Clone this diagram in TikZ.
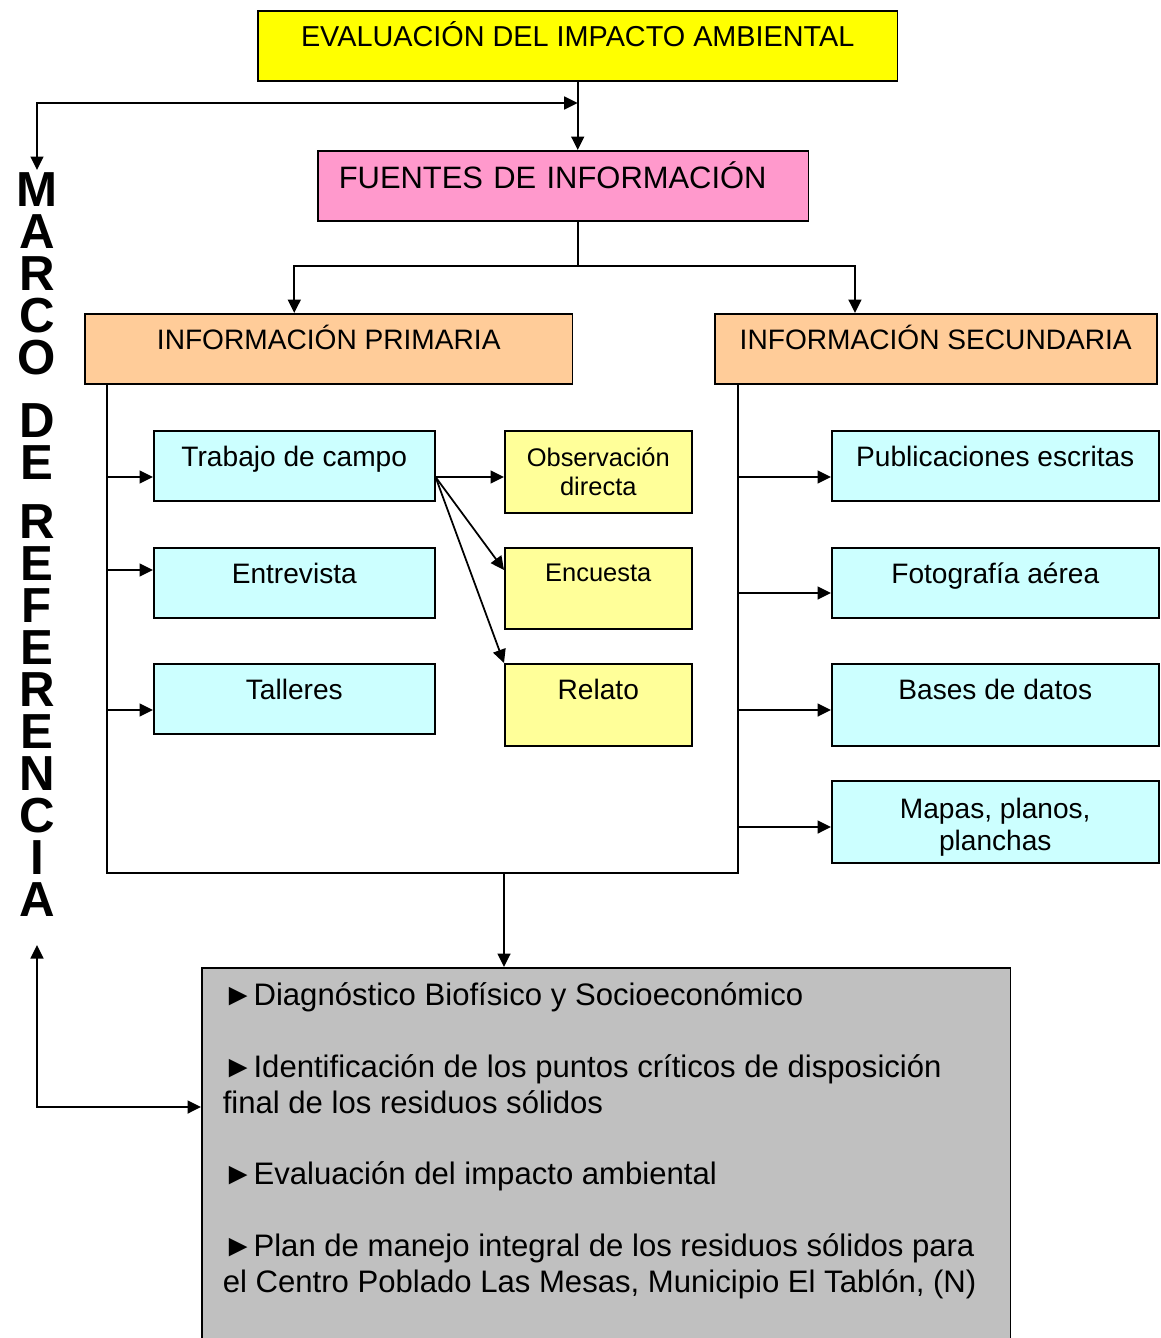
\documentclass[tikz,border=0pt]{standalone}
\usepackage{fontspec}
\setmainfont{Liberation Sans}
\usepackage{xcolor}
\usepackage{tikz}
\usetikzlibrary{calc, positioning, arrows.meta}
\definecolor{eiayellow}{HTML}{FFFF00}
\definecolor{fuentepink}{HTML}{FF99CC}
\definecolor{infopeach}{HTML}{FFCC99}
\definecolor{itemcyan}{HTML}{CCFFFF}
\definecolor{itemyellow}{HTML}{FFFF99}
\definecolor{resultgrey}{HTML}{C0C0C0}
\tikzset{
    base/.style={rectangle, draw=black, line width=0.9pt, inner sep=0pt, align=center, anchor=north west, font=\fontsize{16}{19}\selectfont},
    oneline/.style={text height=0.72cm, text depth=#1},
    twoline/.style={minimum height=1.64cm},
    head/.style={base, oneline=0.68cm, fill=eiayellow, font=\fontsize{16.4}{19}\selectfont},
    source/.style={base, text height=0.76cm, text depth=0.64cm, fill=fuentepink, font=\fontsize{17.6}{20}\selectfont},
    kind/.style={base, oneline=0.68cm, fill=infopeach},
    item/.style={base, fill=itemcyan, minimum width=#1},
    tool/.style={base, fill=itemyellow, minimum width=3.74cm},
    result/.style={base, fill=resultgrey, inner xsep=0.42cm, inner ysep=0.3cm},
    title/.style={inner sep=0pt, align=center, anchor=north, font=\fontsize{28}{23.9}\selectfont\bfseries},
    line/.style={line width=1pt},
    arrow/.style={-{Triangle[length=0.27cm, width=0.26cm]}, line width=1pt},
    twoway/.style={{Triangle[length=0.27cm, width=0.26cm]}-{Triangle[length=0.27cm, width=0.26cm]}, line width=1pt}
}
\begin{document}
\begin{tikzpicture}[x=0.02cm, y=-0.02cm]
    \useasboundingbox (0,0) rectangle (1160,1338);

    % Top
    \node[head, minimum width=12.8cm] (eia) at (257,10) {EVALUACIÓN DEL IMPACTO AMBIENTAL};
    \node[source, text width=8.98cm, inner xsep=0.42cm, align=left] (fuentes) at (317,150) {FUENTES DE INFORMACIÓN};
    \node[kind, minimum width=9.76cm] (prim) at (84,313) {INFORMACIÓN PRIMARIA};
    \node[kind, minimum width=8.84cm] (secu) at (714,313) {INFORMACIÓN SECUNDARIA};

    % Primary sources
    \node[item=5.62cm, oneline=0.68cm] (campo) at (153,430) {Trabajo de campo};
    \node[item=5.62cm, oneline=0.68cm, below=0.91cm of campo.south west, anchor=north west] (entrev) {Entrevista};
    \node[item=5.62cm, oneline=0.68cm, below=0.89cm of entrev.south west, anchor=north west] (taller) {Talleres};
    \node[tool, twoline, font=\fontsize{14.5}{17}\selectfont] (observ) at (504,430) {Observación\\directa};
    \node[tool, text height=0.68cm, text depth=0.94cm, font=\fontsize{14.5}{17}\selectfont] (encuesta) at (504,547) {Encuesta};
    \node[tool, oneline=0.92cm] (relato) at (504,663) {Relato};

    % Secondary sources
    \node[item=6.54cm, oneline=0.68cm] (public) at (831,430) {Publicaciones escritas};
    \node[item=6.54cm, oneline=0.68cm, below=0.91cm of public.south west, anchor=north west] (foto) {Fotografía aérea};
    \node[item=6.54cm, oneline=0.92cm, below=0.89cm of foto.south west, anchor=north west] (bases) {Bases de datos};
    \node[item=6.54cm, twoline, font=\fontsize{16}{18.7}\selectfont, below=0.67cm of bases.south west, anchor=north west] (mapas) {\rule{0pt}{0.62cm}Mapas, planos,\\planchas};

    % Results
    \node[result] (diag) at (201,967) {\parbox[t][6.95cm][t]{15.34cm}{\raggedright\setlength{\parskip}{20.4pt}\fontsize{17.7}{20.4}\selectfont
        ►Diagnóstico Biofísico y Socioeconómico\par
        ►Identificación de los puntos críticos de disposición\\final de los residuos sólidos\par
        ►Evaluación del impacto ambiental\par
        ►Plan de manejo integral de los residuos sólidos para\\el Centro Poblado Las Mesas, Municipio El Tablón, (N)}};

    % Vertical title
    \node[title] (marco) at (37,172) {M\\A\\R\\C\\O\\[0.42cm]D\\E\\[0.34cm]R\\E\\F\\E\\R\\E\\N\\C\\I\\A};
    \coordinate (mtop) at (37,170);
    \coordinate (mbot) at (37,945);

    % Connections top
    \draw[arrow] (eia.south) -- (eia.south |- fuentes.north);
    \draw[twoway] (mtop) |- (eia.south |- 0,103);
    \draw[line] (eia.south |- fuentes.south) -- (eia.south |- 0,266) coordinate (split);
    \draw[arrow] (split) -| (campo.north |- prim.north);
    \draw[arrow] (split) -| ([xshift=2.82cm]secu.north west);

    % Buses
    \coordinate (lbus) at ([xshift=0.46cm]prim.south west);
    \coordinate (rbus) at ([xshift=0.48cm]secu.south west);
    \draw[line] (lbus) -- (lbus |- 0,873) -- (rbus |- 0,873) -- (rbus);

    % Connections primary
    \draw[arrow] (lbus |- 0,477) -- (campo.west |- 0,477);
    \draw[arrow] (lbus |- 0,570) -- (entrev.west |- 0,570);
    \draw[arrow] (lbus |- 0,710) -- (taller.west |- 0,710);
    \coordinate (fork) at (campo.east |- 0,477);
    \draw[arrow] (fork) -- (observ.west |- fork);
    \draw[arrow] (fork) -- (encuesta.west |- 0,570);
    \draw[arrow] (fork) -- (relato.north west);

    % Connections secondary
    \draw[arrow] (rbus |- 0,477) -- (public.west |- 0,477);
    \draw[arrow] (rbus |- 0,593) -- (foto.west |- 0,593);
    \draw[arrow] (rbus |- 0,710) -- (bases.west |- 0,710);
    \draw[arrow] (rbus |- 0,827) -- (mapas.west |- 0,827);

    % Connections bottom
    \draw[arrow] (observ.west |- 0,873) -- (observ.west |- diag.north);
    \draw[twoway] (mbot) |- (diag.west |- 0,1107);
\end{tikzpicture}
\end{document}
